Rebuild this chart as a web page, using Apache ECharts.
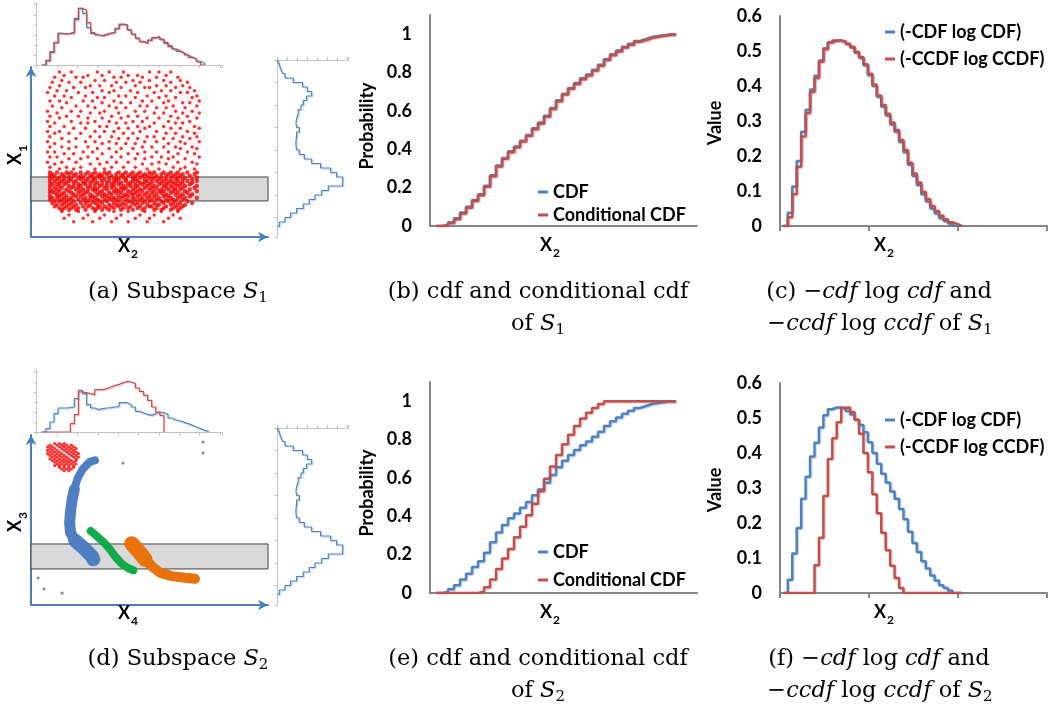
<!DOCTYPE html>
<html><head><meta charset="utf-8">
<script src="https://cdn.jsdelivr.net/npm/echarts@6/dist/echarts.min.js"></script>
<style>html,body{margin:0;padding:0;background:#fff}#c{width:1048px;height:712px}</style>
</head><body><div id="c"></div>
<script>
// ================= DATA =================
// 40 bins along X2
const cdfS1 = [0,0.005,0.02,0.04,0.07,0.1,0.135,0.165,0.21,0.265,0.315,0.355,0.39,0.415,0.445,0.475,0.51,0.54,0.575,0.615,0.655,0.69,0.72,0.745,0.77,0.79,0.815,0.84,0.87,0.895,0.915,0.935,0.95,0.965,0.975,0.985,0.99,0.995,1,1];
const condCdfS1 = [0,0.003,0.015,0.035,0.065,0.095,0.13,0.16,0.205,0.26,0.31,0.35,0.385,0.41,0.44,0.47,0.505,0.535,0.57,0.61,0.65,0.685,0.715,0.74,0.765,0.785,0.81,0.835,0.865,0.89,0.91,0.93,0.945,0.96,0.97,0.98,0.987,0.992,0.996,0.999];
const cdfS2 = [0,0.005,0.02,0.04,0.07,0.1,0.135,0.165,0.21,0.265,0.315,0.355,0.39,0.415,0.445,0.475,0.51,0.54,0.575,0.615,0.655,0.69,0.72,0.745,0.77,0.79,0.815,0.84,0.87,0.895,0.915,0.935,0.95,0.965,0.975,0.985,0.99,0.995,1,1];
const condCdfS2 = [0,0,0,0,0,0,0,0.008,0.03,0.07,0.125,0.18,0.23,0.29,0.345,0.405,0.465,0.53,0.595,0.66,0.72,0.775,0.825,0.87,0.91,0.94,0.965,0.985,1,1,1,1,1,1,1,1,1,1,1,1];
const entCdfS1 = [0,0.038,0.113,0.186,0.269,0.332,0.39,0.429,0.473,0.508,0.525,0.53,0.53,0.527,0.52,0.51,0.495,0.48,0.459,0.431,0.4,0.369,0.341,0.316,0.29,0.269,0.24,0.211,0.175,0.143,0.117,0.091,0.07,0.05,0.036,0.022,0.014,0.007,0,0];
const entCcdfS1 = [0,0.025,0.091,0.169,0.256,0.323,0.383,0.423,0.469,0.505,0.524,0.53,0.53,0.527,0.521,0.512,0.498,0.483,0.462,0.435,0.404,0.373,0.346,0.321,0.296,0.274,0.246,0.217,0.181,0.15,0.124,0.098,0.077,0.057,0.043,0.029,0.019,0.011,0.006,0.001];
const entCdfS2 = [0,0.038,0.113,0.186,0.269,0.332,0.39,0.429,0.473,0.508,0.525,0.53,0.53,0.527,0.52,0.51,0.495,0.48,0.459,0.431,0.4,0.369,0.341,0.316,0.29,0.269,0.24,0.211,0.175,0.143,0.117,0.091,0.07,0.05,0.036,0.022,0.014,0.007,0,0];
const entCcdfS2 = [0,0,0,0,0,0,0,0.079,0.158,0.277,0.383,0.442,0.488,0.529,0.53,0.517,0.495,0.455,0.4,0.345,0.282,0.228,0.172,0.122,0.078,0.043,0.014,0,0,0,0,0,0,0,0,0,0,0,0,0];

// marginal histograms (counts, arbitrary units)
const histTopS1Blue = [0,12,38,66,95,94,95,97,136,170,155,112,97,90,88,92,95,98,108,121,121,106,93,81,71,66,74,81,84,76,65,55,48,41,36,30,24,18,11,5];
const histTopS1Red  = [0,14,40,68,95,93,95,98,140,170,165,127,95,90,88,92,96,98,110,123,121,105,92,80,70,65,75,82,85,78,68,58,48,43,37,30,23,18,10,0];
const histTopS2Blue = [0,10,30,55,72,72,73,75,100,125,115,82,72,67,70,72,73,75,77,88,88,82,75,62,57,53,50,55,60,58,53,42,36,33,29,25,20,15,10,5,2];
const histTopS2Red  = [0,0,0,0,0,0,0,25,52,120,118,115,112,127,127,130,135,140,143,148,152,150,145,132,122,110,95,75,60,50];
const histRightS1 = [6,10,16,23,48,76,90,103,88,78,71,63,58,56,58,66,58,56,56,58,66,81,103,130,160,178,196,196,153,133,113,96,78,58,40,23,6];
const histRightS2 = [6,10,16,23,48,76,90,103,88,78,71,63,58,56,58,66,58,56,56,58,66,81,103,130,160,178,196,196,153,133,113,96,78,58,40,23,6];

// selected slice on X1 / X3
const selBandS1 = [21.2, 35.3];
const selBandS2 = [21.2, 35.9];

// subspace S1 points, grouped by X1 value: [X1, X2, X2, ...]
const s1UpperRows = [
[97,12,17,28,33,39,50,54,59],[95,14,24,30,41,45,57],[94,10,19,22,35,38,47,53,62],[92,13,27,31,43,50,56,63],
[91,9,16,21,36,40,46,59,66],[89,12,25,29,34,44,53,57,64],[88,8,18,23,38,48,50,61,67],[86,11,15,30,35,42,55,59,69],
[85,7,20,26,33,45,52,63,66],[83,10,14,23,37,40,49,57,70],[82,17,28,31,44,54,61,68],[80,8,12,22,26,35,47,51,58,71],
[79,15,30,38,42,56,64,67],[77,9,19,24,33,46,49,60,70],[76,13,27,36,40,53,57,65],[74,7,17,21,31,44,48,61,68],
[73,11,25,29,37,52,56,64,71],[71,8,15,20,34,41,45,59,66],[70,12,24,30,38,49,54,62,70],[68,7,17,27,33,43,47,58,67],
[67,10,21,24,36,40,52,61,64],[65,8,14,29,32,45,50,56,69],[64,18,23,37,41,48,59,63,71],[62,7,12,27,31,35,46,53,66],
[61,10,16,21,39,43,57,61,69],[59,8,25,29,34,49,52,64,70],[58,13,19,37,41,45,56,60,67],[56,7,16,23,27,33,48,53,63,71],
[55,10,30,36,40,44,58,65],[53,8,13,19,24,47,51,56,61,68],[52,16,28,33,38,43,63,70],[50,7,10,22,26,36,48,53,58,66],
[49,14,18,30,41,45,62,69],[47,8,11,24,34,38,51,55,60,71],[46,16,21,28,44,48,58,65],[44,7,13,19,32,36,41,54,62,68],
[43,10,25,29,47,51,57,70],[41,8,15,21,34,39,44,60,65],[40,12,18,27,31,49,54,63,69]
];
const s1BandRows = [
[38,8,11,15,17,21,24,27,31,33,37,40,43,46,50,52,56,59,62,66,70],[37,9,13,16,19,23,26,29,32,36,39,42,45,48,51,55,58,61,64,69],
[36,8,10,14,18,21,25,28,30,34,38,41,44,47,49,53,57,60,63,67],[35,9,12,16,20,22,26,29,33,36,39,43,46,50,52,55,59,62,65,70],
[34,8,11,14,17,21,24,27,31,35,37,40,44,48,51,54,57,61,64,68],[33,10,13,16,19,23,26,30,33,36,40,43,45,49,53,56,59,62,66,70],
[32,8,12,15,18,22,25,28,32,35,38,42,46,48,51,55,58,60,64,68],[31,9,11,14,20,23,27,30,34,37,41,44,47,50,54,57,61,63,67],
[30,8,12,16,18,21,25,29,32,35,39,42,45,49,52,56,59,62,65,70],[29,10,13,17,20,24,27,31,34,38,40,44,48,51,53,57,60,64,69],
[28,8,11,15,19,22,26,28,32,36,39,43,46,50,55,58,61,63,67],[27,9,12,16,21,24,27,30,35,37,41,45,47,52,54,56,60,65,70],
[26,8,10,14,17,20,23,29,33,36,38,42,44,49,51,55,59,62,66],[25,11,13,18,22,25,28,31,34,40,43,46,48,53,57,61,64,68],
[24,8,12,15,19,21,26,30,32,37,39,41,45,50,52,56,58,63,67],[23,9,11,14,17,23,25,27,33,35,38,43,47,49,54,59,62,65,70],
[22,8,13,16,20,22,28,31,34,36,40,44,46,51,53,57,60,64],[21,10,12,15,18,24,26,29,32,37,41,42,48,50,55,58,61,66],
[20,9,14,17,21,23,27,30,35,39,43,45,47,52,56,60,63,68],[19,11,13,16,19,25,28,33,36,38,40,44,49,53,54,59,62,65],
[18,10,15,18,22,24,29,31,34,37,42,46,50,51,57,61,64],[17,12,14,17,20,26,28,32,35,39,41,45,48,53,56,60,63],
[16,13,16,19,23,27,30,33,38,43,47,52,55,59,62]
];
const s1LowerRows = [[15,13,20,27,35,41,48,55,62],[13,16,24,31,38,46,52,60],[11,14,22,29,36,44,50,58,63],[9,18,26,34,41,49,56]];

// subspace S2: red cluster points [X3, X4, X4, ...]
const s2RedRows = [
[95,10,12,14],[94,8,11,13,15,17],[93,7,9,12,14,16,18],[92,8,10,13,15,17,19],[91,7,9,11,14,16,18],
[90,8,10,12,15,17,19],[89,7,9,11,13,16,18,20],[88,8,10,12,14,17,19],[87,9,11,13,15,18,20],[86,8,10,12,14,16,19],
[85,9,11,13,15,17,19],[84,10,12,14,16,18],[83,11,13,15,17,19],[82,10,12,14,16,18],[81,12,14,16,18],[80,13,15,17],[79,14,16]
];
// dense clusters of S2 [X4, X3]
const s2BlueTop = [[27,85.1],[24.9,84.3],[21.7,79.8],[19.5,73.9],[18.3,68]];
const s2BlueMid = [[18.3,68],[17.4,62.2],[16.7,55.3],[16.3,48.4],[16.7,42.5],[18.6,38]];
const s2BlueLow = [[18.6,38],[22.1,33.7],[25.6,28.8],[26.3,26.9]];
const s2Green = [[25.2,43.5],[27.7,40.6],[30.5,37.1],[33.3,32.8],[35.7,28.2],[38.3,24.3],[41.1,21.6],[43.2,20.4]];
const s2OrangeHead = [[42.5,36.1],[45.3,31.8],[48.1,26.9]];
const s2OrangeTail = [[48.1,26.9],[50.9,22.9],[54.4,19],[59.4,17],[65,16],[69.2,15.4]];
const s2Outliers = [[72.6,95.9],[72.6,89.4],[38.8,83.5],[3,15.9],[5.5,9.4],[13.1,7.1]];

// axis tick values
const probTicks = [0,0.2,0.4,0.6,0.8,1];
const valueTicks = [0,0.1,0.2,0.3,0.4,0.5,0.6];

// ================= BUILD =================
const SER = 'DejaVu Serif', SANS = 'Lato';
const BLUE = '#4f81bd', RED = '#c0504d', AXG = '#868686';
const grids = [], xAxes = [], yAxes = [], series = [];
function addGrid(rect, xa, ya) {
  grids.push(Object.assign({containLabel:false}, rect));
  const gi = grids.length - 1;
  xAxes.push(Object.assign({gridIndex: gi, type:'value', splitLine:{show:false}}, xa));
  yAxes.push(Object.assign({gridIndex: gi, type:'value', splitLine:{show:false}}, ya));
  return gi;
}
const rowsToPoints = rows => rows.flatMap(r => r.slice(1).map(x => [x, r[0]]));
const stepData = (vals, off) => vals.map((v,i)=>[off+i, v]).concat([[off+vals.length, vals[vals.length-1]]]);
const histStep = (vals, off) => vals.map((v,i)=>[off+i, v]).concat([[off+vals.length, 0]]);
const vertHist = vals => { const p=[[0,0]]; vals.forEach((v,i)=>{p.push([v,i]);p.push([v,i+1]);}); p.push([0,vals.length]); return p; };

const arrowAxis = {min:0,max:100,axisLine:{show:true,onZero:false,symbol:['none','arrow'],symbolSize:[8,10],lineStyle:{color:'#4a7ebb',width:2}},axisTick:{show:false},axisLabel:{show:false}};
const histLine = {show:true,onZero:false,lineStyle:{color:'#c3c3c3',width:1}};
const histTick = {show:true,length:3,lineStyle:{color:'#c3c3c3',width:1}};
const lblStyle = {color:'#000',fontFamily:SANS,fontWeight:'bold',fontSize:18,margin:18,formatter:v=>String(Math.round(v*10)/10)};
const mainLine = {show:true,onZero:false,lineStyle:{color:AXG,width:2}};

function lineSeries(gi, data, color, width, name, extra) {
  return Object.assign({type:'line', name, xAxisIndex:gi, yAxisIndex:gi, data, showSymbol:false, symbol:'none', silent:true,
    lineStyle:{color, width, shadowColor: color===BLUE?'rgba(79,129,189,0.35)':'rgba(192,80,77,0.35)', shadowBlur:1, shadowOffsetX:1, shadowOffsetY:1},
    itemStyle:{color}, z:3}, extra||{});
}

const rows = [
  {dy:0, top:histTopS1Blue, topR:histTopS1Red, right:histRightS1, cdf:cdfS1, cond:condCdfS1, e1:entCdfS1, e2:entCcdfS1},
  {dy:367, top:histTopS2Blue, topR:histTopS2Red, right:histRightS2, cdf:cdfS2, cond:condCdfS2, e1:entCdfS2, e2:entCcdfS2}
];

rows.forEach((R, r) => {
  const dy = R.dy;
  // scatter subspace
  const gS = addGrid({left:31, top:67+dy+(r?1:0), width:237, height:170}, Object.assign({}, arrowAxis), Object.assign({}, arrowAxis));
  const band = r===0 ? selBandS1 : selBandS2;
  const bandMark = {silent:true, itemStyle:{color:'#d9d9d9', borderColor:'#3f3f3f', borderWidth:1}, data:[[{xAxis:0, yAxis:band[0]},{xAxis:100, yAxis:band[1]}]]};
  if (r === 0) {
    series.push({type:'scatter', xAxisIndex:gS, yAxisIndex:gS, data:rowsToPoints(s1UpperRows).concat(rowsToPoints(s1LowerRows)), symbolSize:3.5, itemStyle:{color:'#ff0000'}, silent:true, markArea:bandMark, z:3});
    series.push({type:'scatter', xAxisIndex:gS, yAxisIndex:gS, data:rowsToPoints(s1BandRows), symbolSize:4.4, itemStyle:{color:'#ff0000'}, silent:true, z:3});
  } else {
    series.push({type:'scatter', xAxisIndex:gS, yAxisIndex:gS, data:s2Outliers, symbolSize:3, itemStyle:{color:'#6d6d6d'}, silent:true, markArea:bandMark, z:3});
    series.push({type:'scatter', xAxisIndex:gS, yAxisIndex:gS, data:rowsToPoints(s2RedRows), symbolSize:3.2, itemStyle:{color:'#ff0000'}, silent:true, z:3});
    const blob = (data, color, w) => ({type:'line', xAxisIndex:gS, yAxisIndex:gS, data, showSymbol:false, symbol:'none', silent:true, z:3,
      lineStyle:{color, width:w, cap:'round', join:'round'}});
    series.push(blob(s2BlueTop, '#4f7fc1', 8));
    series.push(blob(s2BlueMid, '#4f7fc1', 11));
    series.push(blob(s2BlueLow, '#4f7fc1', 14));
    series.push(blob(s2Green, '#12a94a', 8));
    series.push(blob(s2OrangeHead, '#e8720c', 15));
    series.push(blob(s2OrangeTail, '#e8720c', 10));
  }
  // top marginal histogram
  const gT = addGrid({left:36.7, top:3+dy, width:186, height:62},
    {min:0, max:45.7, interval:5, axisLine:histLine, axisTick:histTick, axisLabel:{show:false}},
    {min:0, max:186, interval:30, axisLine:histLine, axisTick:histTick, axisLabel:{show:false}});
  series.push(lineSeries(gT, histStep(R.top, 1.25), BLUE, 1.2, undefined, {step:'end'}));
  series.push(lineSeries(gT, histStep(R.topR, 1.25), RED, 1.2, undefined, {step:'end'}));
  // right marginal histogram
  const gR = addGrid({left:277.3, top:60+dy+(r?1:0), width:71, height:177},
    {min:0, max:213, interval:30, position:'top', axisLine:histLine, axisTick:histTick, axisLabel:{show:false}},
    {min:0, max:39.33, interval:5, inverse:true, axisLine:histLine, axisTick:histTick, axisLabel:{show:false}});
  series.push(lineSeries(gR, vertHist(R.right), BLUE, 1.2));
  // cdf panel
  const gC = addGrid({left:430, top:15+dy, width:267, height:211},
    {min:0, max:44.5, axisLine:mainLine, axisTick:{show:false}, axisLabel:{show:false}},
    {min:0, max:1.1, interval:0.2, axisLine:mainLine, axisTick:{show:false}, axisLabel:Object.assign({showMaxLabel:false}, lblStyle)});
  series.push(lineSeries(gC, stepData(R.cdf, 1), BLUE, 2.5, 'CDF', {step:'end'}));
  series.push(lineSeries(gC, stepData(R.cond, 1), RED, 2.5, 'Conditional CDF', {step:'end'}));
  // entropy panel
  const gE = addGrid({left:780, top:16+dy, width:267, height:210},
    {min:0, max:60, interval:20, axisLine:mainLine, axisTick:{show:true, length:5, lineStyle:{color:AXG, width:2}}, axisLabel:{show:false}},
    {min:0, max:0.6, interval:0.1, axisLine:mainLine, axisTick:{show:false}, axisLabel:lblStyle});
  series.push(lineSeries(gE, stepData(R.e1, 0.75), BLUE, 2.5, '(-CDF log CDF)', {step:'end'}));
  series.push(lineSeries(gE, stepData(R.e2, 0.75), RED, 2.5, '(-CCDF log CCDF)', {step:'end'}));
});

function legend(left, top, gap, names) {
  return {left, top, orient:'vertical', icon:'rect', itemWidth:10, itemHeight:3, itemGap:gap, padding:0, selectedMode:false,
    data:names, itemStyle:{borderWidth:0}, textStyle:{fontFamily:SANS, fontWeight:'bold', fontSize:18, color:'#000', lineHeight:18}};
}
const legends = [
  legend(538, 183, 5, ['CDF','Conditional CDF']),
  legend(885, 23, 9, ['(-CDF log CDF)','(-CCDF log CCDF)']),
  legend(538, 543, 10, ['CDF','Conditional CDF']),
  legend(885, 411, 9, ['(-CDF log CDF)','(-CCDF log CCDF)'])
];

// texts
const capRich = {
  n:{fontFamily:SER, fontSize:22.5, lineHeight:26, verticalAlign:'top', fill:'#000'},
  i:{fontFamily:SER, fontSize:22.5, fontStyle:'italic', lineHeight:26, verticalAlign:'top', fill:'#000'},
  s:{fontFamily:SER, fontSize:15, lineHeight:15, padding:[10,0,0,0], verticalAlign:'top', fill:'#000'}
};
const tRich = {
  x:{fontFamily:SANS, fontSize:18, fontWeight:'bold', lineHeight:20, verticalAlign:'top', fill:'#000'},
  s:{fontFamily:SANS, fontSize:12, fontWeight:'bold', lineHeight:12, padding:[11,0,0,1], verticalAlign:'top', fill:'#000'}
};
const nRich = {x:{fontFamily:SANS, fontSize:18, fontWeight:'bold', fill:'#000'}};
function txt(x, y, text, rich, rot) {
  return {type:'text', x, y, rotation:rot||0, silent:true, z:10, style:{text, rich, align:'center', verticalAlign:'middle'}};
}
const R90 = Math.PI/2;
const texts = [];
[0,367].forEach((dy, r) => {
  const S = r ? '2' : '1';
  texts.push(txt(16, 155+dy, '{x|X}{s|' + (r?'3':'1') + '}', tRich, R90));
  texts.push(txt(128, 247+dy, '{x|X}{s|' + (r?'4':'2') + '}', tRich));
  texts.push(txt(550, 246+dy, '{x|X}{s|2}', tRich));
  texts.push(txt(884, 246+dy, '{x|X}{s|2}', tRich));
  texts.push(txt(367, 126+dy, '{x|Probability}', nRich, R90));
  texts.push(txt(715, 123+dy, '{x|Value}', nRich, R90));
  const L = r ? ['d','e','f'] : ['a','b','c'];
  texts.push(txt(178, 294+dy, '{n|(' + L[0] + ') Subspace }{i|S}{s|' + S + '}', capRich));
  texts.push(txt(538, 294+dy, '{n|(' + L[1] + ') cdf and conditional cdf}', capRich));
  texts.push(txt(538, 326+dy, '{n|of }{i|S}{s|' + S + '}', capRich));
  texts.push(txt(879, 294+dy, '{n|(' + L[2] + ') \u2212}{i|cdf}{n| log }{i|cdf}{n| and}', capRich));
  texts.push(txt(880, 326+dy, '{n|\u2212}{i|ccdf}{n| log }{i|ccdf}{n| of }{i|S}{s|' + S + '}', capRich));
});

const chart = echarts.init(document.getElementById('c'), null, {renderer:'canvas'});
chart.setOption({
  animation:false, backgroundColor:'#ffffff',
  grid:grids, xAxis:xAxes, yAxis:yAxes, series, legend:legends,
  graphic:{elements:texts}
});
</script></body></html>
